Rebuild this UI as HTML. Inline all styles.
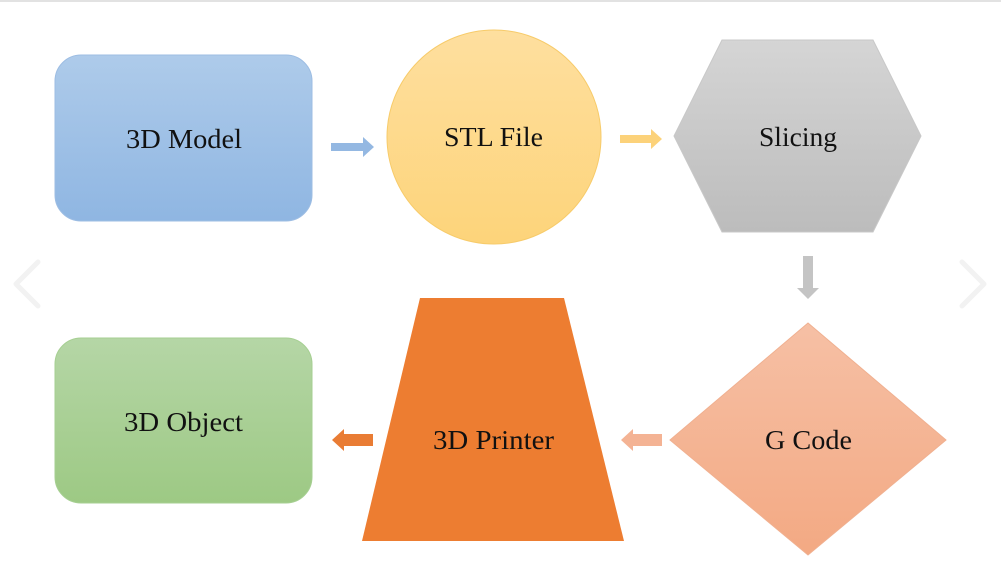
<!DOCTYPE html>
<html><head><meta charset="utf-8"><style>
html,body{margin:0;padding:0;background:#fff;width:1001px;height:563px;overflow:hidden}
svg{display:block}
</style></head><body>
<svg width="1001" height="563" viewBox="0 0 1001 563" xmlns="http://www.w3.org/2000/svg">
<defs>
<linearGradient id="gb" x1="0" y1="0" x2="0" y2="1"><stop offset="0" stop-color="#aecbea"/><stop offset="1" stop-color="#8fb6e2"/></linearGradient>
<linearGradient id="gy" x1="0" y1="0" x2="0" y2="1"><stop offset="0" stop-color="#fedf9f"/><stop offset="1" stop-color="#fdd47a"/></linearGradient>
<linearGradient id="gg" x1="0" y1="0" x2="0" y2="1"><stop offset="0" stop-color="#d5d5d5"/><stop offset="1" stop-color="#bcbcbc"/></linearGradient>
<linearGradient id="gs" x1="0" y1="0" x2="0" y2="1"><stop offset="0" stop-color="#f6c0a5"/><stop offset="1" stop-color="#f3a983"/></linearGradient>
<linearGradient id="gn" x1="0" y1="0" x2="0" y2="1"><stop offset="0" stop-color="#b5d6a6"/><stop offset="1" stop-color="#9dc984"/></linearGradient>
</defs>
<line x1="0" y1="1" x2="1001" y2="1" stroke="#d8d8d8" stroke-width="1.5"/>
<polyline points="38,262 16,284 38,306" fill="none" stroke="#f2f2f2" stroke-width="5" stroke-linecap="round" stroke-linejoin="round"/>
<polyline points="962,262 984,284 962,306" fill="none" stroke="#f2f2f2" stroke-width="5" stroke-linecap="round" stroke-linejoin="round"/>

<rect x="55" y="55" width="257" height="166" rx="26" fill="url(#gb)" stroke="#9dbde3" stroke-width="1"/>
<polygon points="331,143 363,143 363,137 374,147 363,157 363,151 331,151" fill="#94b8e2"/>
<circle cx="494" cy="137" r="107" fill="url(#gy)" stroke="#f7cb6a" stroke-width="1"/>
<polygon points="620,135 651,135 651,129 662,139 651,149 651,143 620,143" fill="#fcd27a"/>
<polygon points="674,136 722,40 873,40 921,136 873,232 722,232" fill="url(#gg)" stroke="#c8c8c8" stroke-width="1"/>
<polygon points="803,256 813,256 813,288 819,288 808,299 797,288 803,288" fill="#c4c4c4"/>
<polygon points="808,323 946,440 808,555 670,440" fill="url(#gs)" stroke="#f0b090" stroke-width="1"/>
<polygon points="662,434 633,434 633,429 621,440 633,451 633,446 662,446" fill="#f4b394"/>
<polygon points="420,298 564,298 624,541 362,541" fill="#ed7d31"/>
<polygon points="373,434 344,434 344,429 332,440 344,451 344,446 373,446" fill="#e97c34"/>
<rect x="55" y="338" width="257" height="165" rx="26" fill="url(#gn)" stroke="#a6cf92" stroke-width="1"/>

<g font-family="'Liberation Serif', 'Times New Roman', serif" font-size="27" fill="#111">
<text x="126" y="148" textLength="116" lengthAdjust="spacingAndGlyphs">3D Model</text>
<text x="444" y="146" textLength="99" lengthAdjust="spacingAndGlyphs">STL File</text>
<text x="759" y="146" textLength="78" lengthAdjust="spacingAndGlyphs">Slicing</text>
<text x="765" y="449" textLength="87" lengthAdjust="spacingAndGlyphs">G Code</text>
<text x="433" y="449" textLength="121" lengthAdjust="spacingAndGlyphs">3D Printer</text>
<text x="124" y="431" textLength="119" lengthAdjust="spacingAndGlyphs">3D Object</text>
</g>
</svg>
</body></html>
